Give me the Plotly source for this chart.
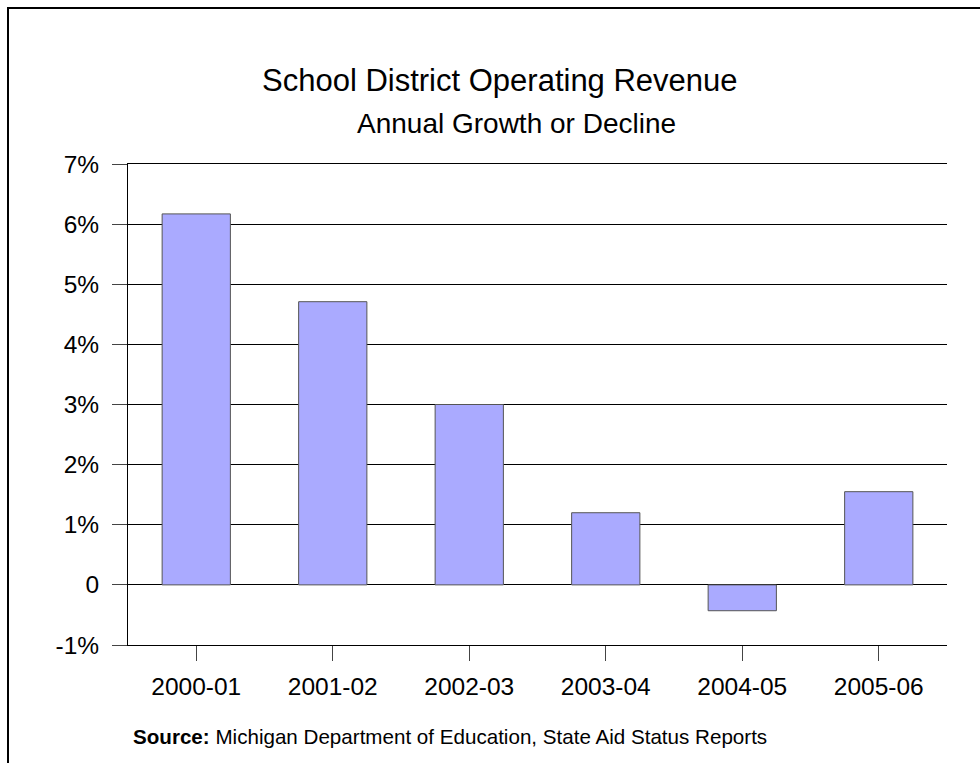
import plotly.graph_objects as go

categories = ["2000-01", "2001-02", "2002-03", "2003-04", "2004-05", "2005-06"]
growth = [6.17, 4.71, 3.0, 1.2, -0.43, 1.55]
ytick_vals = [-1, 0, 1, 2, 3, 4, 5, 6, 7]
ytick_text = ["-1%", "0", "1%", "2%", "3%", "4%", "5%", "6%", "7%"]

FONT = "Arial, Liberation Sans, sans-serif"
W, H = 980, 763
L, R, T, B = 128, 33, 164, 118
PW, PH = W - L - R, H - T - B


def px_x(px):
    return (px - L) / PW


def px_y(py):
    return (H - B - py) / PH


fig = go.Figure(
    go.Bar(
        x=categories,
        y=growth,
        width=0.5,
        marker=dict(color="#AAAAFF", line=dict(color="#555555", width=1)),
        hoverinfo="skip",
    )
)

fig.update_layout(
    width=W,
    height=H,
    margin=dict(l=L, r=R, t=T, b=B),
    paper_bgcolor="white",
    plot_bgcolor="white",
    showlegend=False,
    font=dict(family=FONT, color="black"),
    xaxis=dict(
        type="category",
        showline=True,
        mirror=True,
        linecolor="black",
        linewidth=1,
        ticks="outside",
        ticklen=15,
        tickcolor="#444444",
        tickwidth=1,
        showgrid=False,
        tickfont=dict(size=24.5, family=FONT, color="black"),
        ticklabelstandoff=5,
    ),
    yaxis=dict(
        range=[-1, 7],
        tickvals=ytick_vals,
        ticktext=ytick_text,
        showgrid=True,
        gridcolor="black",
        gridwidth=1,
        zeroline=False,
        showline=True,
        linecolor="black",
        linewidth=1,
        ticks="outside",
        ticklen=15,
        tickcolor="#444444",
        tickwidth=1,
        tickfont=dict(size=24.5, family=FONT, color="black"),
        ticklabelstandoff=8,
    ),
    annotations=[
        dict(
            text="School District Operating Revenue",
            xref="paper", yref="paper",
            x=px_x(500), y=px_y(81),
            xanchor="center", yanchor="middle",
            showarrow=False,
            font=dict(size=31, family=FONT, color="black"),
        ),
        dict(
            text="Annual Growth or Decline",
            xref="paper", yref="paper",
            x=px_x(516), y=px_y(123),
            xanchor="center", yanchor="middle",
            showarrow=False,
            font=dict(size=28, family=FONT, color="black"),
        ),
        dict(
            text="<b>Source:</b> Michigan Department of Education, State Aid Status Reports",
            xref="paper", yref="paper",
            x=px_x(131), y=px_y(736),
            xanchor="left", yanchor="middle",
            showarrow=False,
            font=dict(size=20.6, family=FONT, color="black"),
        ),
    ],
    shapes=[
        dict(type="line", xref="paper", yref="paper",
             x0=px_x(8), x1=px_x(8), y0=px_y(7), y1=px_y(775),
             line=dict(color="black", width=2)),
        dict(type="line", xref="paper", yref="paper",
             x0=px_x(7), x1=px_x(990), y0=px_y(8), y1=px_y(8),
             line=dict(color="black", width=2)),
    ],
)

fig.write_html("out.html")
